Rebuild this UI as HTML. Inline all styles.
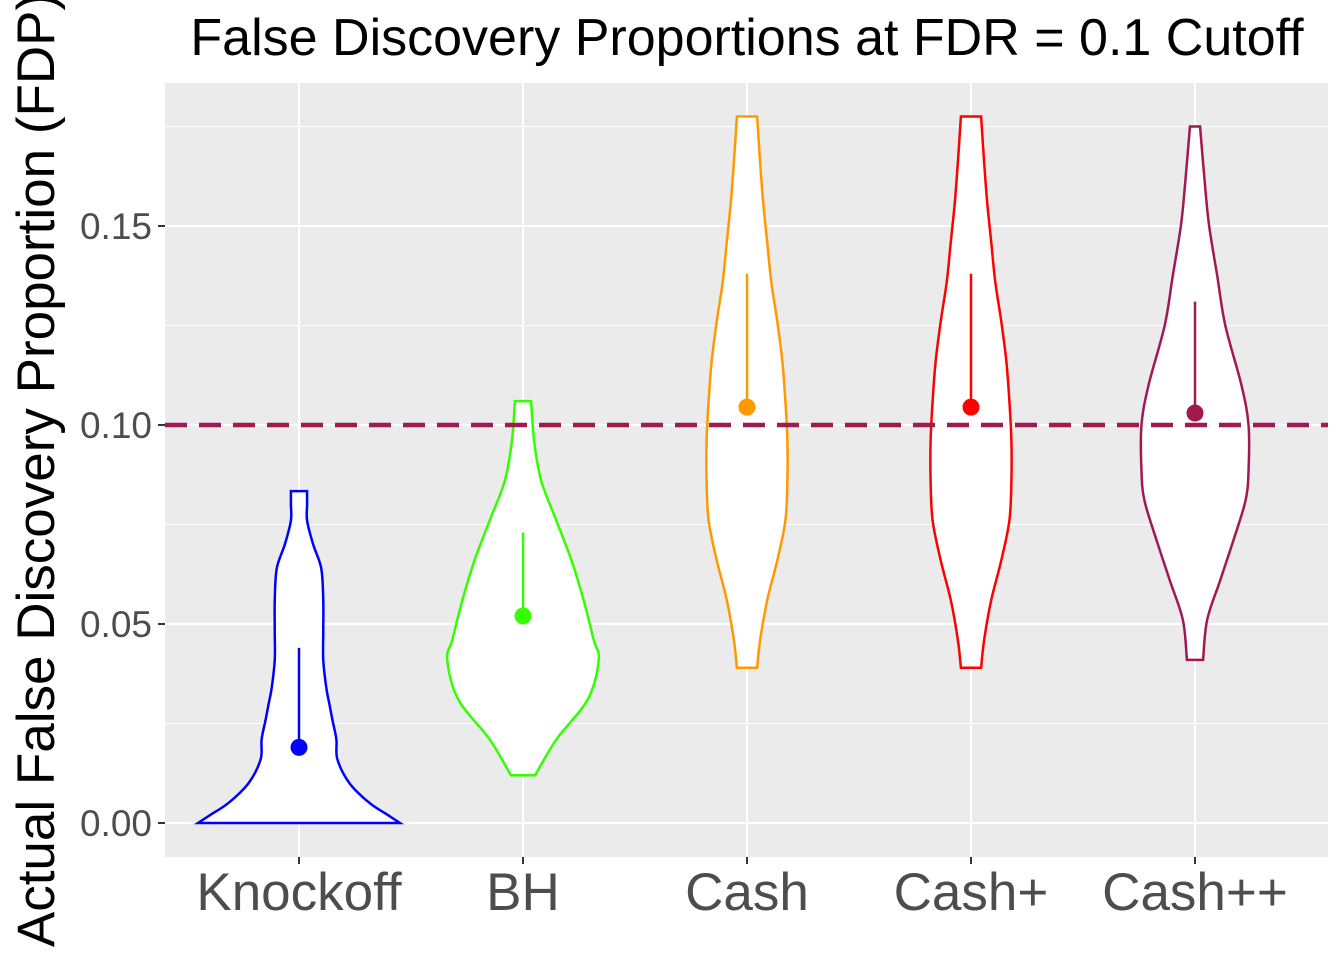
<!DOCTYPE html>
<html><head><meta charset="utf-8"><style>
body{margin:0;background:#fff}
svg text{font-family:"Liberation Sans",Arial,sans-serif}
</style></head><body>
<svg id="chart" width="1344" height="960">
<rect x="165" y="83" width="1163" height="774" fill="#EBEBEB"/>
<g id="grid"></g><g id="marks"></g><g id="axes"></g>
<text x="747" y="55" font-size="52" text-anchor="middle" fill="#000">False Discovery Proportions at FDR = 0.1 Cutoff</text>
<text transform="translate(54,470) rotate(-90)" font-size="53" text-anchor="middle" fill="#000">Actual False Discovery Proportion (FDP)</text>
</svg>
<script>
const categories=["Knockoff","BH","Cash","Cash+","Cash++"];
const colors=["#0000FF","#33FF00","#FF9900","#FF0000","#A0194F"];
const yTicks=[0,0.05,0.1,0.15];
const yTickLabels=["0.00","0.05","0.10","0.15"];
const points=[0.019,0.052,0.1045,0.1045,0.103];
const whiskerLo=[0.019,0.052,0.1045,0.1045,0.103];
const whiskerHi=[0.044,0.073,0.138,0.138,0.131];
const cutoff=0.1;
// violin profiles: fdp values and relative half-widths (density)
const vY0=[0,0.002,0.005,0.01,0.016,0.021,0.026,0.03,0.034,0.041,0.048,0.056,0.064,0.07,0.076,0.08,0.0834];
const vW0=[1.0,0.88,0.7,0.5,0.38,0.37,0.33,0.3,0.27,0.24,0.24,0.24,0.22,0.14,0.08,0.08,0.08];
const vY1=[0.012,0.021,0.031,0.041,0.046,0.056,0.066,0.076,0.086,0.096,0.106];
const vW1=[0.12,0.33,0.64,0.75,0.7,0.6,0.48,0.33,0.18,0.11,0.08];
const vY2=[0.039,0.046,0.056,0.066,0.076,0.086,0.096,0.106,0.116,0.126,0.136,0.146,0.156,0.166,0.1775];
const vW2=[0.1,0.13,0.2,0.3,0.38,0.4,0.4,0.38,0.35,0.3,0.24,0.2,0.16,0.13,0.1];
const vY3=[0.039,0.046,0.056,0.066,0.076,0.086,0.096,0.106,0.116,0.126,0.136,0.146,0.156,0.166,0.1775];
const vW3=[0.1,0.13,0.2,0.3,0.38,0.4,0.4,0.38,0.35,0.3,0.24,0.2,0.16,0.13,0.1];
const vY4=[0.041,0.051,0.061,0.071,0.081,0.0885,0.1,0.11,0.125,0.1375,0.15,0.16,0.175];
const vW4=[0.08,0.12,0.25,0.38,0.5,0.53,0.53,0.46,0.3,0.22,0.14,0.1,0.05];
const violinY=[vY0,vY1,vY2,vY3,vY4];
const violinW=[vW0,vW1,vW2,vW3,vW4];

const NS="http://www.w3.org/2000/svg";
const L=165,R=1328,T=83,B=857,maxHalf=101;
const y=v=>823-v*3980;
const x=i=>299+i*224;
function el(t,a,p){const e=document.createElementNS(NS,t);for(const k in a)e.setAttribute(k,a[k]);p.appendChild(e);return e;}
const grid=document.getElementById('grid'),marks=document.getElementById('marks'),axes=document.getElementById('axes');
for(let v=0.025;v<0.18;v+=0.05){const g=el('line',{x1:L,x2:R,y1:y(v),y2:y(v),stroke:'#fff','stroke-width':1},grid);

}
yTicks.forEach((v,i)=>{const g=el('line',{x1:L,x2:R,y1:y(v),y2:y(v),stroke:'#fff','stroke-width':2},grid);


const tk=el('line',{x1:L-7,x2:L,y1:y(v),y2:y(v),stroke:'#333','stroke-width':2},axes);


const t=el('text',{x:L-13,y:y(v)+13,'font-size':37,'text-anchor':'end',fill:'#4D4D4D'},axes);t.textContent=yTickLabels[i];

});
categories.forEach((c,i)=>{const g=el('line',{x1:x(i),x2:x(i),y1:T,y2:B,stroke:'#fff','stroke-width':2},grid);


const tk=el('line',{x1:x(i),x2:x(i),y1:B,y2:B+7,stroke:'#333','stroke-width':2},axes);


const t=el('text',{x:x(i),y:910,'font-size':53,'text-anchor':'middle',fill:'#4D4D4D'},axes);t.textContent=c;

});
function smooth(pts){let d=`M${pts[0][0]},${pts[0][1]}`;for(let i=0;i<pts.length-1;i++){const p0=pts[i-1]||pts[i],p1=pts[i],p2=pts[i+1],p3=pts[i+2]||p2;
d+=` C${p1[0]+(p2[0]-p0[0])/6},${p1[1]+(p2[1]-p0[1])/6} ${p2[0]-(p3[0]-p1[0])/6},${p2[1]-(p3[1]-p1[1])/6} ${p2[0]},${p2[1]}`;}return d;}
categories.forEach((c,i)=>{const ys=violinY[i],ws=violinW[i],cx=x(i);
const right=ys.map((v,k)=>[cx+ws[k]*maxHalf,y(v)]);
const left=ys.map((v,k)=>[cx-ws[k]*maxHalf,y(v)]).reverse();
let d=smooth(right);const ld=smooth(left);d+=' L'+ld.slice(1)+' Z';
const p=el('path',{d:d,fill:'#fff',stroke:colors[i],'stroke-width':2.5},marks);


const w=el('line',{x1:cx,x2:cx,y1:y(whiskerLo[i]),y2:y(whiskerHi[i]),stroke:colors[i],'stroke-width':2.5},marks);


const pt=el('circle',{cx:cx,cy:y(points[i]),r:8.5,fill:colors[i]},marks);

});
const cl=el('line',{x1:L,x2:R,y1:y(cutoff),y2:y(cutoff),stroke:'#A0194F','stroke-width':4.5,'stroke-dasharray':'22,12'},marks);


</script>
</body></html>
